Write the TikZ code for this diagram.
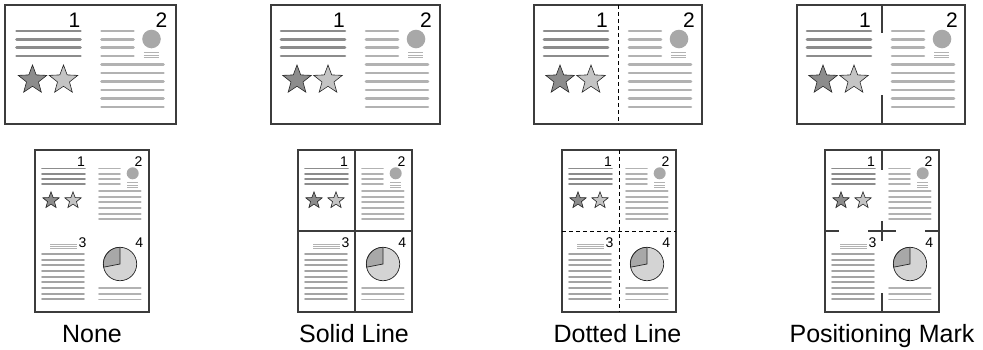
\documentclass[tikz,border=0pt]{standalone}
\usepackage{fontspec}
\setmainfont{Liberation Sans}
\definecolor{dkln}{HTML}{8C8C8C}
\definecolor{ltln}{HTML}{B2B2B2}
\definecolor{mdln}{HTML}{A4A4A4}
\definecolor{circf}{HTML}{A8A8A8}
\definecolor{stara}{HTML}{8C8C8C}
\definecolor{starb}{HTML}{C4C4C4}
\definecolor{piel}{HTML}{D4D4D4}
\definecolor{pied}{HTML}{A8A8A8}
\definecolor{border}{HTML}{3C3C3C}
\tikzset{
  pageframe/.style={draw=border, line width=1.5},
  dk/.style={draw=dkln, line width=2.6, line cap=round},
  lt/.style={draw=ltln, line width=2.6, line cap=round},
  dkb/.style={draw=dkln, line width=1.9, line cap=round},
  ltb/.style={draw=ltln, line width=1.9, line cap=round},
  mdb/.style={draw=mdln, line width=1.9, line cap=round},
  thinlt/.style={draw=ltln, line width=0.8},
  starline/.style={draw=black!85, line width=0.6, line join=miter},
  tnum/.style={anchor=base east, inner sep=0, font=\fontsize{21}{21}\selectfont},
  bnum/.style={anchor=base east, inner sep=0, font=\fontsize{14}{14}\selectfont},
  lbl/.style={anchor=base, inner sep=0, font=\fontsize{25}{25}\selectfont},
  dotdiv/.style={draw=black, line width=0.8, dash pattern=on 4 off 3},
  soliddiv/.style={draw=border, line width=1.3},
  markdiv/.style={draw=border, line width=1.1}
}
\newcommand\mystar[4]{%
  \pgfmathsetmacro\rin{#3*0.42}%
  \begin{scope}[shift={(#1,#2)}]
  \draw[starline, fill=#4] (-90:#3) -- (-54:\rin) -- (-18:#3) -- (18:\rin) -- (54:#3)
     -- (90:\rin) -- (126:#3) -- (162:\rin) -- (198:#3) -- (234:\rin) -- cycle;
  \end{scope}}
\newcommand\topcontent[1]{%
  \node[tnum] (#1n1) at (74,22) {1};
  \node[tnum] (#1n2) at (161,22) {2};
  \foreach \y in {26,34.3,42.7,51} {\draw[dk] (10,\y) -- (74,\y); \draw[lt] (95,\y) -- (127,\y);}
  \foreach \y in {59.5,68,76.5,85,93.5,102} \draw[lt] (95,\y) -- (157,\y);
  \fill[circf] (145,34) circle[radius=9.3];
  \foreach \y in {47.7,50,52.3} \draw[thinlt] (137,\y) -- (152,\y);
  \mystar{26}{75}{15}{stara}
  \mystar{57}{75}{15}{starb}
}
\newcommand\botcontent[1]{%
  % quadrant 1
  \node[bnum] (#1b1) at (50,16.7) {1};
  \foreach \y in {18.5,23.6,28.8,34} \draw[dkb] (7,\y) -- (50,\y);
  \mystar{16}{50.5}{8.7}{stara}
  \mystar{38}{50.5}{8.7}{starb}
  % quadrant 2
  \begin{scope}[shift={(57,0)}]
    \node[bnum] (#1b2) at (50.7,16.7) {2};
    \foreach \y in {18.5,23.8,29,34.3} \draw[ltb] (7,\y) -- (28,\y);
    \fill[circf] (40.7,23.3) circle[radius=6];
    \foreach \y in {32.7,35,37.3} \draw[thinlt] (35,\y) -- (45.5,\y);
    \foreach \y in {41,46.7,52.3,58,63.7,69.3} \draw[ltb] (7,\y) -- (48.7,\y);
  \end{scope}
  % quadrant 3
  \begin{scope}[shift={(0,81)}]
    \node[bnum] (#1b3) at (51.7,16.2) {3};
    \foreach \y in {13,15,17} \draw[thinlt] (15,\y) -- (41.7,\y);
    \foreach \i in {0,...,8} \draw[mdb] (7,23+5.66*\i) -- (49,23+5.66*\i);
  \end{scope}
  % quadrant 4
  \begin{scope}[shift={(57,81)}]
    \node[bnum] (#1b4) at (51.3,16.2) {4};
    \draw[draw=black!85, line width=0.7, fill=piel] (28,33) circle[radius=16.7];
    \draw[draw=black!85, line width=0.7, fill=pied] (28,33) -- +(169:16.7)
       arc[start angle=169, end angle=270, radius=16.7] -- cycle;
    \foreach \y in {57.3,63,68.5} \draw[ltb] (7,\y) -- (48.7,\y);
  \end{scope}
}
\begin{document}
\begin{tikzpicture}[x=1pt,y=-1pt]
\useasboundingbox (0,0) rectangle (983,349);
% ---------- top pages ----------
\begin{scope}[shift={(5,5)}]
  \draw[pageframe] (0,0) rectangle (171,119);
  \begin{scope}[shift={(1.5,0)}]\topcontent{a}\end{scope}
\end{scope}
\begin{scope}[shift={(271,5)}]
  \draw[pageframe] (0,0) rectangle (169,119);
  \topcontent{b}
\end{scope}
\begin{scope}[shift={(534,5)}]
  \draw[pageframe] (0,0) rectangle (168,119);
  \draw[dotdiv] (84.5,0) -- (84.5,119);
  \topcontent{c}
\end{scope}
\begin{scope}[shift={(797,5)}]
  \draw[pageframe] (0,0) rectangle (168,119);
  \draw[markdiv] (85,0) -- (85,28) (85,90) -- (85,119);
  \topcontent{d}
\end{scope}
% ---------- bottom pages ----------
\begin{scope}[shift={(35,150)}]
  \draw[pageframe] (0,0) rectangle (114,162);
  \botcontent{e}
\end{scope}
\begin{scope}[shift={(298,150)}]
  \draw[pageframe] (0,0) rectangle (114,162);
  \draw[soliddiv] (57,0) -- (57,162) (0,81) -- (114,81);
  \botcontent{f}
\end{scope}
\begin{scope}[shift={(562,150)}]
  \draw[pageframe] (0,0) rectangle (114,162);
  \draw[dotdiv] (57,0) -- (57,162) (0,81) -- (114,81);
  \botcontent{g}
\end{scope}
\begin{scope}[shift={(825,150)}]
  \draw[pageframe] (0,0) rectangle (114,162);
  \draw[markdiv] (57,0) -- (57,20) (57,143) -- (57,162)
     (0,81) -- (14,81) (100,81) -- (114,81)
     (43,81) -- (71,81) (57,71) -- (57,91);
  \botcontent{h}
\end{scope}
% ---------- labels ----------
\node[lbl] (lnone) at (92,342) {None};
\node[lbl] (lsolid) at (354,342) {Solid Line};
\node[lbl] (ldot) at (617.5,342) {Dotted Line};
\node[lbl] (lpos) at (882,342) {Positioning Mark};
\end{tikzpicture}
\end{document}
